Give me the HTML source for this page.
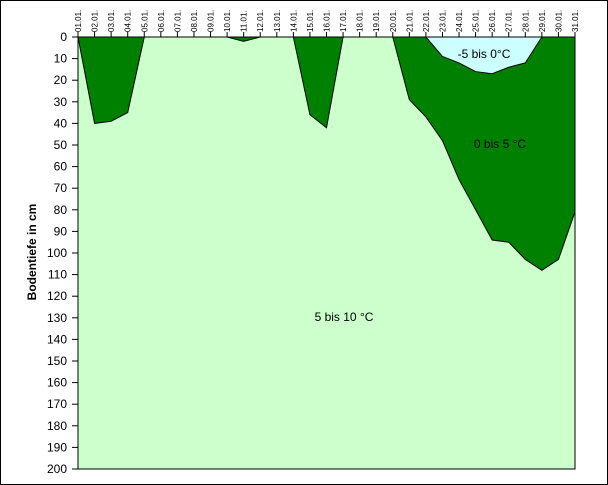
<!DOCTYPE html>
<html><head><meta charset="utf-8"><style>
body{margin:0;background:#fff}
svg{display:block;font-family:"Liberation Sans",sans-serif}
</style></head><body>
<svg id="c" width="608" height="485" xmlns="http://www.w3.org/2000/svg">
<rect x="0.5" y="0.5" width="607" height="484" fill="#fff" stroke="#000"/>
<g id="plot"></g>
</svg>
<script>
const days=["01.01.","02.01.","03.01.","04.01.","05.01.","06.01.","07.01.","08.01.","09.01.","10.01.","11.01.","12.01.","13.01.","14.01.","15.01.","16.01.","17.01.","18.01.","19.01.","20.01.","21.01.","22.01.","23.01.","24.01.","25.01.","26.01.","27.01.","28.01.","29.01.","30.01.","31.01."];
const depth5=[0,40,39,35,0,0,0,0,0,0,2,0,0,0,36,42,0,0,0,0,29,37,48,66,80,94,95,103,108,103,81];
const depth0=[0,0,0,0,0,0,0,0,0,0,0,0,0,0,0,0,0,0,0,0,0,0,9,12,16,17,14,12,0,0,0];
const yTicks=[0,10,20,30,40,50,60,70,80,90,100,110,120,130,140,150,160,170,180,190,200];
const L=78,R=575,T=37,B=469;
const xs=i=>L+(R-L)*i/(days.length-1);
const ys=v=>T+(B-T)*v/200;
const NS="http://www.w3.org/2000/svg";
const g=document.getElementById('plot');
function mk(t,a){const e=document.createElementNS(NS,t);for(const k in a)e.setAttribute(k,a[k]);g.appendChild(e);return e;}
let bg=mk('rect',{x:L,y:T,width:R-L,height:B-T,fill:'#ccffcc'});


function area(vals,fill,name){let d='M'+xs(0)+','+ys(0);vals.forEach((v,i)=>d+=' L'+xs(i)+','+ys(v));d+=' L'+xs(vals.length-1)+','+ys(0)+'Z';
const p=mk('path',{d:d,fill:fill,stroke:'#000','stroke-width':1});

}
area(depth5,'#008000','area-0-to-5');
area(depth0,'#ccffff','area-minus5-to-0');
let ax=mk('path',{d:`M${L},${T} V${B} H${R} V${T}`,fill:'none',stroke:'#000'});


mk('line',{x1:L,y1:T,x2:R,y2:T,stroke:'#000'});
yTicks.forEach(v=>{const y=ys(v);mk('line',{x1:L-6,y1:y,x2:L,y2:y,stroke:'#000'});
const t=mk('text',{x:67,y:y+4,'text-anchor':'end','font-size':12});t.textContent=v;

});
days.forEach((d,i)=>{const x=xs(i);mk('line',{x1:x,y1:T-5,x2:x,y2:T,stroke:'#000'});
const t=mk('text',{x:0,y:0,'font-size':8,transform:`translate(${x+3},${T-5}) rotate(-90)`});t.textContent=d;

});
const yt=mk('text',{x:0,y:0,'font-size':12,'font-weight':'bold','text-anchor':'middle',transform:'translate(36,252) rotate(-90)'});yt.textContent='Bodentiefe in cm';


[['5 bis 10 °C',344,321,'label-5-to-10'],['0 bis 5 °C',500,148,'label-0-to-5'],['-5 bis 0°C',484,58,'label-minus5-to-0']].forEach(a=>{
const t=mk('text',{x:a[1],y:a[2],'font-size':12,'text-anchor':'middle'});t.textContent=a[0];

});
</script>
</body></html>
